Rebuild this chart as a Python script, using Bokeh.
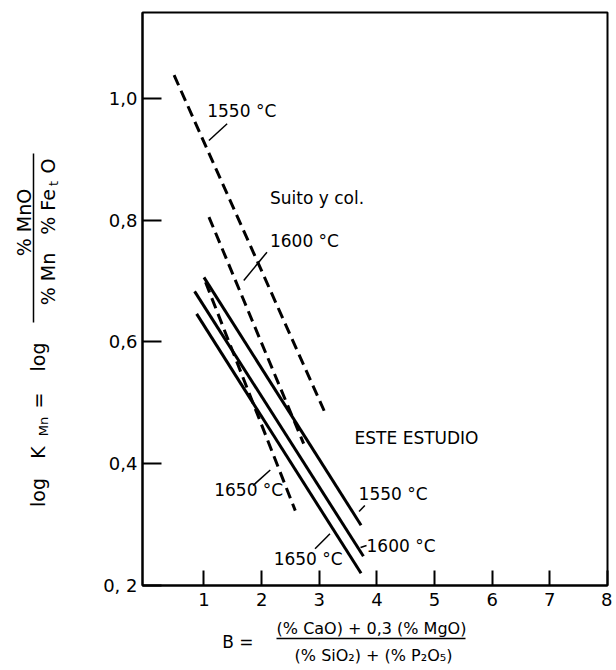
import math
from bokeh.plotting import figure
from bokeh.layouts import row, column
from bokeh.models import Range1d, FixedTicker, Label
from bokeh.core.properties import value
from bokeh.embed import file_html
from bokeh.resources import INLINE

# ---------------- data ----------------
temps = ["1550 °C", "1600 °C", "1650 °C"]

# "Este estudio" (solid lines): basicity B and log K_Mn at both ends
este_b_start = [1.00, 0.838, 0.873]
este_b_end = [3.725, 3.766, 3.725]
este_logk_start = [0.706, 0.683, 0.646]
este_logk_end = [0.299, 0.248, 0.220]

# "Suito y col." (dashed lines)
suito_b_start = [0.482, 1.087, 1.028]
suito_b_end = [3.085, 2.729, 2.584]
suito_logk_start = [1.038, 0.805, 0.698]
suito_logk_end = [0.487, 0.433, 0.323]

x_ticks = [1, 2, 3, 4, 5, 6, 7, 8]
x_tick_labels = ["1", "2", "3", "4", "5", "6", "7", "8"]
y_ticks = [0.2, 0.4, 0.6, 0.8, 1.0]
y_tick_labels = ["0, 2", "0,4", "0,6", "0,8", "1,0"]

X_MIN, X_MAX = -0.066, 8.0
Y_MIN, Y_MAX = 0.2, 1.141

# ---------------- layout ----------------
LEFT_W = 100          # width of the y-title panel
MAIN_W, MAIN_H = 512, 616
BOT_H = 52
TOTAL_W = LEFT_W + MAIN_W
FL, FR, FT, FB = 140.0, 607.0, 12.0, 585.0  # frame edges in page pixels


def dx(px):
    return X_MIN + (px - FL) * (X_MAX - X_MIN) / (FR - FL)


def dy(py):
    return Y_MIN + (FB - py) * (Y_MAX - Y_MIN) / (FB - FT)


FONT = "DejaVu Sans"

p = figure(width=MAIN_W, height=MAIN_H, x_range=Range1d(X_MIN, X_MAX), y_range=Range1d(Y_MIN, Y_MAX),
           output_backend="svg", toolbar_location=None,
           min_border_left=int(FL - LEFT_W), min_border_top=int(FT),
           min_border_right=int(TOTAL_W - FR), min_border_bottom=int(MAIN_H - FB))
p.grid.visible = False
p.background_fill_color = "white"
p.border_fill_color = "white"
p.outline_line_color = "black"
p.outline_line_width = 2
p.outline_line_alpha = 1.0

for ax in (p.xaxis[0], p.yaxis[0]):
    ax.axis_line_width = 2
    ax.axis_line_color = "black"
    ax.major_tick_line_width = 2
    ax.major_tick_line_color = "black"
    ax.major_tick_out = 0
    ax.minor_tick_line_color = None
    ax.major_label_text_font = FONT
    ax.major_label_text_color = "black"

p.xaxis.ticker = FixedTicker(ticks=x_ticks)
p.xaxis.major_label_overrides = {t: s for t, s in zip(x_ticks, x_tick_labels)}
p.xaxis.major_tick_in = 15
p.xaxis.major_label_standoff = 7
p.xaxis.major_label_text_font_size = "18px"

p.yaxis.ticker = FixedTicker(ticks=y_ticks)
p.yaxis.major_label_overrides = {t: s for t, s in zip(y_ticks, y_tick_labels)}
p.yaxis.major_tick_in = 19
p.yaxis.major_label_standoff = 5
p.yaxis.major_label_text_font_size = "18px"

# ---------------- lines ----------------
p.segment(x0=suito_b_start, y0=suito_logk_start, x1=suito_b_end, y1=suito_logk_end,
          line_color="black", line_width=3, line_dash="11 6")
p.segment(x0=este_b_start, y0=este_logk_start, x1=este_b_end, y1=este_logk_end,
          line_color="black", line_width=3)


# ---------------- annotations inside the frame ----------------
def lab(s, px, py, size="17px"):
    p.add_layout(Label(x=dx(px), y=dy(py), text=s, text_font=FONT, text_font_size=size,
                       text_align="left", text_baseline="middle", text_color="black"))


lab(temps[0], 205, 110.5)
lab("Suito y col.", 268, 197)
lab(temps[1], 268, 240.5)
lab(temps[2], 212, 489.5)
lab("ESTE ESTUDIO", 353, 437.5)
lab(temps[0], 357, 493.5)
lab(temps[1], 365, 545)
lab(temps[2], 271.7, 558)

leaders = [((225, 123.3), (206.7, 140)),
           ((265, 251.7), (241.7, 280)),
           ((268.3, 469.5), (251, 485)),
           ((363.3, 505), (357.5, 511)),
           ((359, 547), (365, 545)),
           ((328.3, 533.3), (313.3, 548.3))]
p.segment(x0=[dx(a[0]) for a, b in leaders], y0=[dy(a[1]) for a, b in leaders],
          x1=[dx(b[0]) for a, b in leaders], y1=[dy(b[1]) for a, b in leaders],
          line_color="black", line_width=1.5)


# ---------------- title panels (page-pixel placement) ----------------
def panel(w, h, y0, y1):
    # y range given as negated page y so that the panel frame maps page pixels directly
    f = figure(width=w, height=h, x_range=Range1d(0, w), y_range=Range1d(-y1, -y0),
               output_backend="svg", toolbar_location=None, x_axis_type=None, y_axis_type=None,
               min_border=0, min_border_left=0, min_border_right=0, min_border_top=0,
               min_border_bottom=0)
    f.grid.visible = False
    f.outline_line_color = None
    f.background_fill_color = "white"
    f.border_fill_color = "white"
    return f


def ptxt(f, s, x, y, size, angle=0.0):
    f.text(x=[x], y=[-y], text=[s], text_font=value(FONT), text_font_size=value(size),
           text_align="center", text_baseline="middle", angle=angle, text_color="black")


def pseg(f, x0, y0, x1, y1):
    f.segment(x0=[x0], y0=[-y0], x1=[x1], y1=[-y1], line_color="black", line_width=1.5)


# y title (rotated, reads bottom-to-top); the row aligns this panel's frame with the plot frame
lp = panel(LEFT_W, MAIN_H, FT, FB)
R = math.pi / 2
ptxt(lp, "log", 37.5, 492, "19px", R)
ptxt(lp, "K", 37.5, 452, "19px", R)
ptxt(lp, "Mn", 42.5, 426, "13px", R)
ptxt(lp, "=", 37.5, 400, "19px", R)
ptxt(lp, "log", 37.5, 356.5, "19px", R)
ptxt(lp, "% MnO", 23.4, 222, "19px", R)
pseg(lp, 33, 322, 33, 153)
ptxt(lp, "% Mn", 47.4, 278.5, "19px", R)
ptxt(lp, "% Fe", 47.4, 211.5, "19px", R)
ptxt(lp, "t", 52.5, 183, "13px", R)
ptxt(lp, "O", 47.4, 165.5, "19px", R)

# x title
bp = panel(TOTAL_W, BOT_H, MAIN_H, MAIN_H + BOT_H)
ptxt(bp, "B  =", 240, 641, "17px")
ptxt(bp, "(% CaO) + 0,3 (% MgO)", 371, 628, "16px")
pseg(bp, 276, 638, 465, 638)
ptxt(bp, "(% SiO\u2082) + (% P\u2082O\u2085)", 373, 655, "16px")

layout = column(row(lp, p, spacing=0), bp, spacing=0)
open("out.html", "w").write(file_html(layout, INLINE))
